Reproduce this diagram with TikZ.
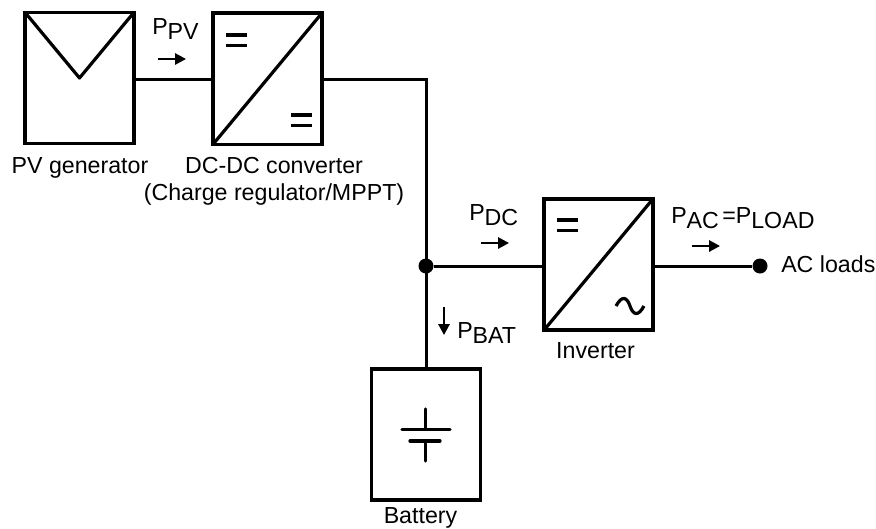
\documentclass[tikz,border=0pt]{standalone}
\usepackage{fontspec}
\setmainfont{Liberation Sans}
\usetikzlibrary{arrows.meta, positioning, calc}
\newcommand{\plabel}[1]{P\lower3.75pt\hbox{#1}}
\tikzset{
    blockbox/.style={rectangle, draw, line width=2.6pt, inner sep=0pt, outer sep=0pt, minimum width=81.75pt, minimum height=98.5pt},
    wire/.style={line width=2.25pt},
    symline/.style={line width=2.4pt},
    flow/.style={-{Triangle[length=8.25pt,width=8.5pt]}, line width=1.5pt},
    junction/.style={circle, fill=black, inner sep=0pt, minimum size=11.25pt},
    caption/.style={font=\fontsize{17.4pt}{20.25pt}\selectfont, align=center, inner sep=0pt}
}

\begin{document}
\begin{tikzpicture}[x=0.75pt, y=-0.75pt]
    \useasboundingbox (0,0) rectangle (876,529);

    \node (pv) [blockbox] at (79.5,78) {};
    \node (dcdc) [blockbox, right=59.25pt of pv, yshift=-0.5pt] {};
    \node (inv) [blockbox] at (598.5,264.5) {};
    \node (bat) [blockbox] at (426,434.5) {};

    \node (bus) [junction] at (426,266) {};
    \node (acdot) [junction] at (760,266) {};
    \coordinate (corner) at (426,79);
    \coordinate (batin) at (426,369);

    % captions
    \node (pvtext) [caption, anchor=base] at (80,173) {PV generator};
    \node (dctext) [caption, anchor=north] at (274,157) {DC-DC converter\\(Charge regulator/MPPT)};
    \node (invtext) [caption, anchor=base] at (595.5,358) {Inverter};
    \node (battext) [caption, anchor=base] at (420.5,523) {Battery};
    \node (actext) [caption, anchor=base west] at (781,272) {AC loads};

    % power labels
    \node (ppv) [caption, anchor=base west] at (152,34) {\plabel{PV}};
    \node (pdc) [caption, anchor=base west] at (469,220) {\plabel{DC}};
    \node (pac) [caption, anchor=base west] at (671,223) {\plabel{AC}\kern2.5pt=\plabel{LOAD}};
    \node (pbat) [caption, anchor=base west] at (457,338) {\plabel{BAT}};

    % wires
    \draw [wire] (pv.east |- corner) -- (dcdc.west |- corner);
    \draw [wire] (dcdc.east |- corner) -- (corner) -- (batin);
    \draw [wire] (bus) -- (inv.west |- bus);
    \draw [wire] (inv.east |- bus) -- (acdot);

    % flow arrows
    \coordinate (fa1) at (158,59);
    \coordinate (fa2) at (186,59);
    \coordinate (fb1) at (481,243);
    \coordinate (fb2) at (509,243);
    \coordinate (fc1) at (692,246);
    \coordinate (fc2) at (720,246);
    \coordinate (fd1) at (444,307);
    \coordinate (fd2) at (444,335);
    \draw [flow] (fa1) -- (fa2);
    \draw [flow] (fb1) -- (fb2);
    \draw [flow] (fc1) -- (fc2);
    \draw [flow] (fd1) -- (fd2);

    % block symbols
    \draw [symline, line join=round] (pv.north west) -- (79.5,78) -- (pv.north east);
    \draw [symline] (dcdc.south west) -- (dcdc.north east);
    \draw [symline] (inv.south west) -- (inv.north east);
    \foreach \x/\y in {226/35, 291/115, 557/220} {
        \draw [symline] (\x,\y) -- ++(21,0);
        \draw [symline] (\x,\y+10.5) -- ++(21,0);
    }
    \draw [symline] (616,306) .. controls (622,295) and (627,297) .. (630,306) .. controls (633,315) and (638,317) .. (644,306);

    % battery cell
    \draw [symline, line cap=round] (425.5,409) -- (425.5,429) (402,429.5) -- (450,429.5);
    \draw [symline, line cap=round] (410,441) -- (440,441) (425.5,441) -- (425.5,461);
\end{tikzpicture}
\end{document}
